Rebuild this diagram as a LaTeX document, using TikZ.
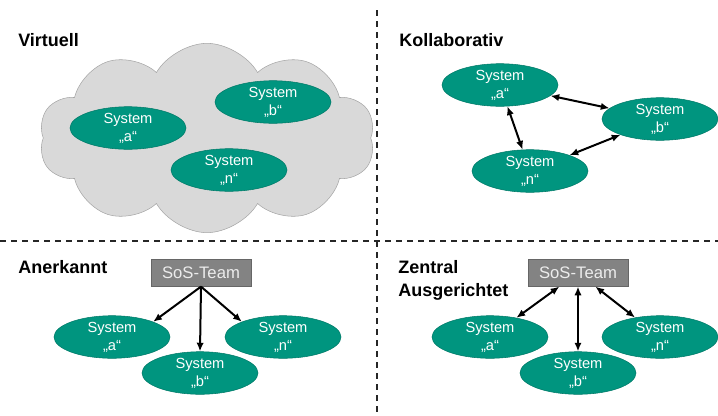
\documentclass[tikz,border=0pt]{standalone}
\usepackage{fontspec}
\setmainfont{Liberation Sans}
\usetikzlibrary{shapes.geometric,shapes.symbols,arrows.meta}

\definecolor{sysgreen}{HTML}{00957F}
\definecolor{sysborder}{HTML}{007A68}
\definecolor{cloudgray}{HTML}{D9D9D9}
\definecolor{teamgray}{HTML}{838383}

\begin{document}
\begin{tikzpicture}[x=0.75pt,y=-0.75pt,>={Latex[length=6.5pt,width=5.5pt]}]
    \tikzstyle{system}=[ellipse,draw=sysborder,fill=sysgreen,text=white,minimum width=87pt,minimum height=31.5pt,inner sep=0pt,align=center,font=\fontsize{11}{13.5}\selectfont]
    \tikzstyle{team}=[rectangle,draw=gray!80!black,fill=teamgray,text=gray!15,minimum width=75pt,minimum height=20pt,inner sep=0pt,font=\fontsize{12.5}{14}\selectfont]
    \tikzstyle{title}=[anchor=north west,inner sep=0pt,align=left,font=\fontsize{13.5}{17.25}\selectfont\bfseries]
    \tikzstyle{link}=[line width=1.5pt]
    \tikzstyle{separator}=[line width=1.1pt,black!85,dash pattern=on 4.5pt off 3.75pt]
    \useasboundingbox (0,0) rectangle (718,415);

    % separators
    \draw[separator] (377,10) -- (377,415);
    \draw[separator] (0,241) -- (718,241);

    % Virtuell
    \node[title] (V-title) at (18,33) {Virtuell};
    \node[cloud,cloud puffs=10,cloud puff arc=120,aspect=1.78,draw=gray!70,fill=cloudgray,minimum width=252pt,minimum height=142pt] (V-cloud) at (207,138) {};
    \foreach \name/\x/\y in {a/128/128, b/273/102, n/229/170}
        \node[system] (V-\name) at (\x,\y) {System\\„\name“};

    % Kollaborativ
    \node[title] (K-title) at (399,33) {Kollaborativ};
    \foreach \name/\x/\y in {a/500/85, b/660/119, n/530/171}
        \node[system] (K-\name) at (\x,\y) {System\\„\name“};
    \foreach \from/\to in {a/b, a/n, b/n}
        \draw[<->,link] (K-\from) -- (K-\to);

    % Anerkannt
    \node[title] (A-title) at (18,260) {Anerkannt};
    \node[team] (A-sos) at (201,273) {SoS-Team};
    \foreach \name/\x/\y in {a/112/337, b/200/373, n/283/337}
        \node[system] (A-\name) at (\x,\y) {System\\„\name“};
    \foreach \to/\side in {a/north east, b/north, n/north west}
        \draw[->,link] (A-sos.south) -- (A-\to.\side);

    % Zentral ausgerichtet
    \node[title] (Z-title) at (398,260) {Zentral\\Ausgerichtet};
    \node[team] (Z-sos) at (578,273) {SoS-Team};
    \foreach \name/\x/\y in {a/490/337, b/578/373, n/660/337}
        \node[system] (Z-\name) at (\x,\y) {System\\„\name“};
    \foreach \to in {a, b, n}
        \draw[<->,link] (Z-sos) -- (Z-\to);
\end{tikzpicture}
\end{document}
